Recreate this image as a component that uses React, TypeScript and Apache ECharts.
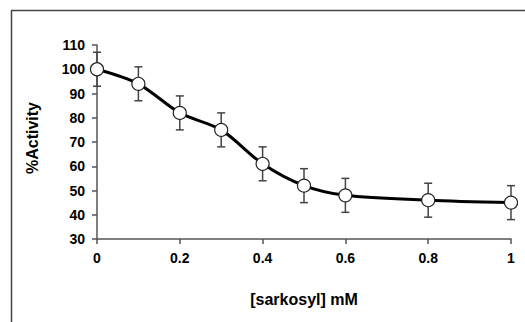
import React, { useEffect, useRef } from "react";
import * as echarts from "echarts";

const concentrations = [0, 0.1, 0.2, 0.3, 0.4, 0.5, 0.6, 0.8, 1];
const activity = [100, 94, 82, 75, 61, 52, 48, 46, 45];
const errors = [7, 7, 7, 7, 7, 7, 7, 7, 7];
const xTicks = [0, 0.2, 0.4, 0.6, 0.8, 1];
const yTicks = [30, 40, 50, 60, 70, 80, 90, 100, 110];

export default function App() {
  const ref = useRef<HTMLDivElement>(null);
  useEffect(() => {
    if (!ref.current) return;
    const chart = echarts.init(ref.current, undefined, { renderer: "svg" });
    const font = "Arial, 'Liberation Sans', sans-serif";
    const errData = concentrations.map((c, i) => [c, activity[i] - errors[i], activity[i] + errors[i]]);
    chart.setOption({
      animation: false,
      backgroundColor: "#fff",
      grid: { left: 97, right: 14, top: 45, bottom: 83 },
      xAxis: {
        type: "value",
        min: xTicks[0],
        max: xTicks[xTicks.length - 1],
        interval: 0.2,
        name: "[sarkosyl] mM",
        nameLocation: "middle",
        nameGap: 52,
        nameTextStyle: { fontFamily: font, fontWeight: "bold", fontSize: 16, color: "#000" },
        axisLine: { show: true, onZero: false, lineStyle: { color: "#555", width: 1.5 } },
        axisTick: { show: true, length: 5, lineStyle: { color: "#555", width: 1.5 } },
        axisLabel: { fontFamily: font, fontWeight: "bold", fontSize: 14, color: "#000", margin: 12 },
        splitLine: { show: false },
      },
      yAxis: {
        type: "value",
        min: yTicks[0],
        max: yTicks[yTicks.length - 1],
        interval: 10,
        name: "%Activity",
        nameLocation: "middle",
        nameRotate: 90,
        nameGap: 57,
        nameTextStyle: { fontFamily: font, fontWeight: "bold", fontSize: 16, color: "#000", padding: [0, 0, 0, 8] },
        axisLine: { show: true, lineStyle: { color: "#555", width: 1.5 } },
        axisTick: { show: true, length: 5, lineStyle: { color: "#555", width: 1.5 } },
        axisLabel: { fontFamily: font, fontWeight: "bold", fontSize: 14, color: "#000", margin: 12 },
        splitLine: { show: false },
      },
      graphic: [
        { type: "line", shape: { x1: 11, y1: 10.5, x2: 525, y2: 10.5 }, style: { stroke: "#444", lineWidth: 1.5 } },
        { type: "line", shape: { x1: 11.5, y1: 10, x2: 11.5, y2: 322 }, style: { stroke: "#444", lineWidth: 1.5 } },
      ],
      series: [
        {
          type: "custom",
          z: 1,
          data: errData,
          renderItem: (params: any, api: any) => {
            const x = api.value(0);
            const lo = api.coord([x, api.value(1)]);
            const hi = api.coord([x, api.value(2)]);
            const w = 4;
            const style = { stroke: "#444", lineWidth: 1.5 };
            return {
              type: "group",
              children: [
                { type: "line", shape: { x1: lo[0], y1: lo[1], x2: hi[0], y2: hi[1] }, style },
                { type: "line", shape: { x1: hi[0] - w, y1: hi[1], x2: hi[0] + w, y2: hi[1] }, style },
                { type: "line", shape: { x1: lo[0] - w, y1: lo[1], x2: lo[0] + w, y2: lo[1] }, style },
              ],
            };
          },
        },
        {
          type: "line",
          z: 3,
          data: concentrations.map((c, i) => [c, activity[i]]),
          smooth: 0.3,
          symbol: "circle",
          symbolSize: 13,
          lineStyle: { color: "#000", width: 3 },
          itemStyle: { color: "#fff", borderColor: "#222", borderWidth: 1.2 },
        },
      ],
    });
    return () => chart.dispose();
  }, []);
  return <div ref={ref} style={{ width: 525, height: 322, position: "absolute", left: 0, top: 0 }} />;
}
